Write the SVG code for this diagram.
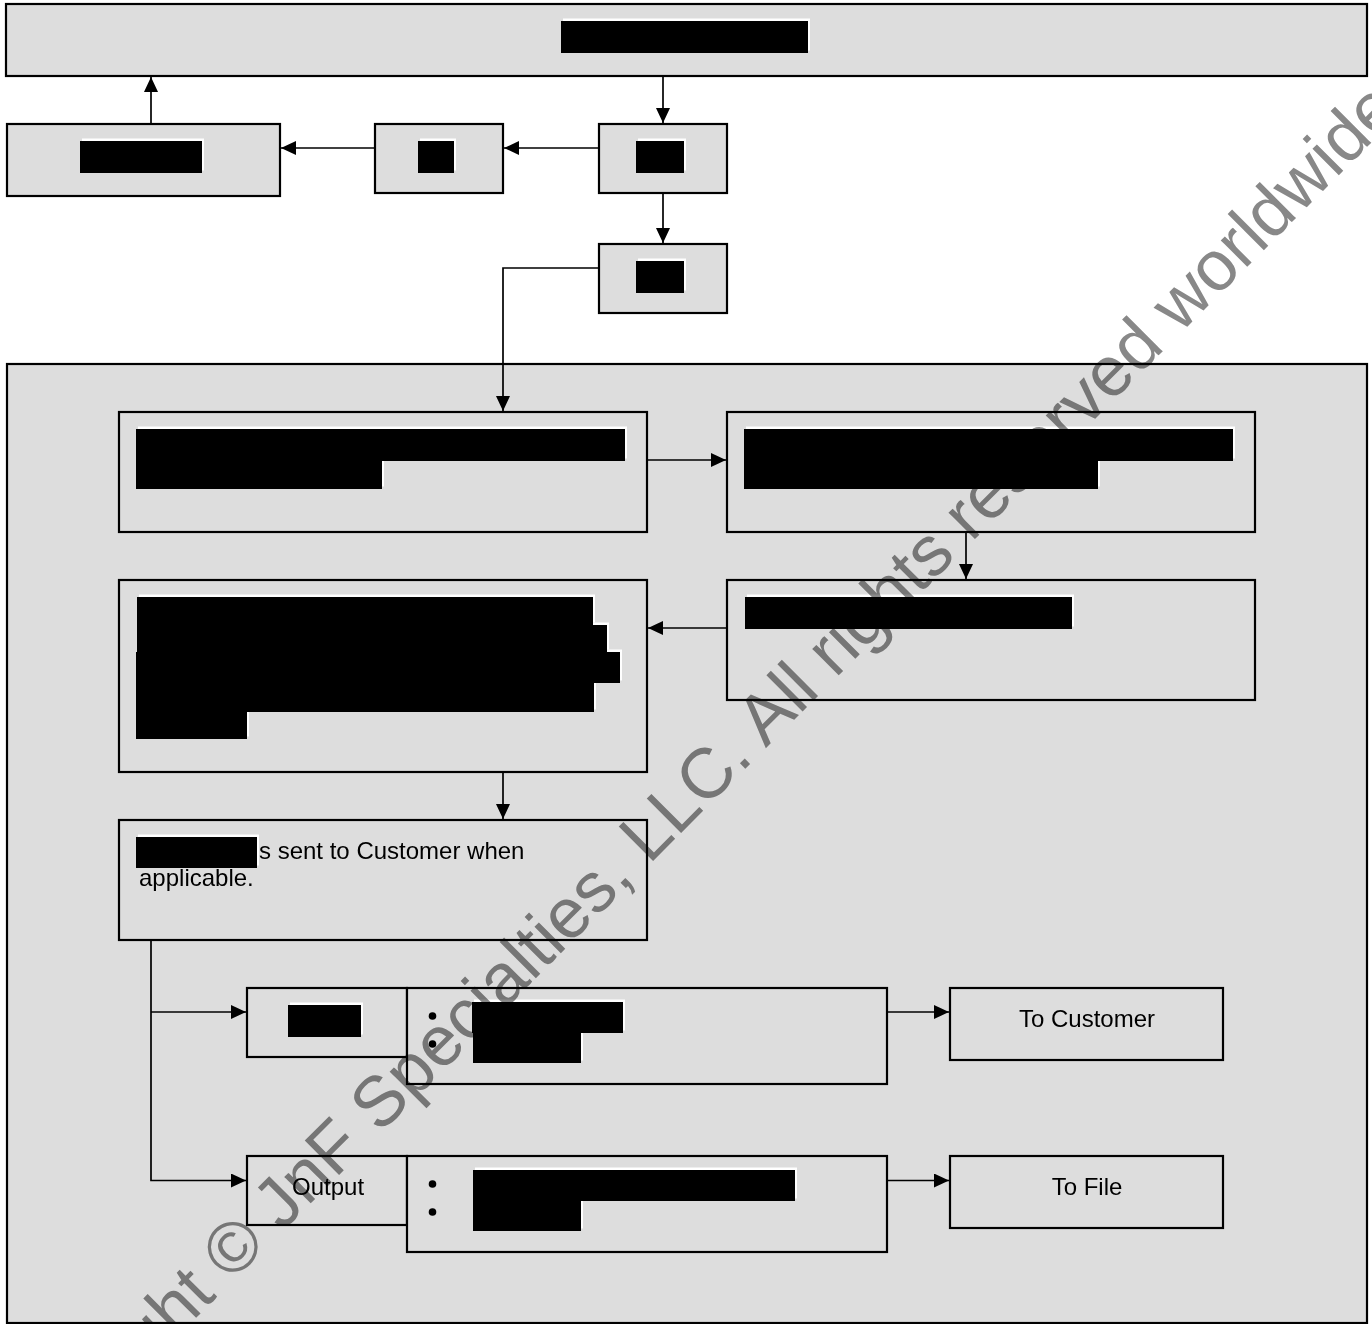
<svg xmlns="http://www.w3.org/2000/svg" width="1372" height="1324" viewBox="0 0 1372 1324">
<defs>
<style>
.box{fill:#dddddd;stroke:#000;stroke-width:2.2}
.edge{fill:none;stroke:#000;stroke-width:1.7}
.rb{fill:#000}
.rw{fill:#fff}
.t{font-family:"Liberation Sans",Arial,sans-serif;font-size:24px;fill:#000}
.wm{font-family:"Liberation Sans",Arial,sans-serif;font-size:70.6px;fill:#888888;mix-blend-mode:multiply}
</style>
<marker id="ah" markerWidth="15" markerHeight="14" refX="15" refY="7" orient="auto" markerUnits="userSpaceOnUse">
<path d="M0,0 L15,7 L0,14 Z" fill="#000"/>
</marker>
</defs>
<rect x="0" y="0" width="1372" height="1324" fill="#fff"/>

<g id="container">
<rect class="box" x="7" y="364" width="1360" height="959"/>
</g>

<g id="connectors">
<line class="edge" x1="663" y1="77" x2="663" y2="123" marker-end="url(#ah)"/>
<line class="edge" x1="599" y1="148" x2="504" y2="148" marker-end="url(#ah)"/>
<line class="edge" x1="375" y1="148" x2="281" y2="148" marker-end="url(#ah)"/>
<line class="edge" x1="151" y1="124" x2="151" y2="77" marker-end="url(#ah)"/>
<line class="edge" x1="663" y1="193" x2="663" y2="243" marker-end="url(#ah)"/>
<polyline class="edge" points="599,268 503,268 503,411" marker-end="url(#ah)"/>
<line class="edge" x1="647" y1="460" x2="726" y2="460" marker-end="url(#ah)"/>
<line class="edge" x1="966" y1="532" x2="966" y2="579" marker-end="url(#ah)"/>
<line class="edge" x1="727" y1="628" x2="648" y2="628" marker-end="url(#ah)"/>
<line class="edge" x1="503" y1="772" x2="503" y2="819" marker-end="url(#ah)"/>
<polyline class="edge" points="151,940 151,1180.5 246,1180.5" marker-end="url(#ah)"/>
<line class="edge" x1="151" y1="1012" x2="246" y2="1012" marker-end="url(#ah)"/>
<line class="edge" x1="887" y1="1012" x2="949" y2="1012" marker-end="url(#ah)"/>
<line class="edge" x1="887" y1="1180.5" x2="949" y2="1180.5" marker-end="url(#ah)"/>
</g>

<g id="n-top">
<rect class="box" x="6" y="4" width="1361" height="72"/>
<rect class="rw" x="563" y="18.5" width="247" height="32"/>
<rect class="rb" x="561" y="21" width="247" height="32"/>
</g>

<g id="n-a">
<rect class="box" x="7" y="124" width="273" height="72"/>
<rect class="rw" x="82" y="138.5" width="122" height="32"/>
<rect class="rb" x="80" y="141" width="122" height="32"/>
</g>

<g id="n-b">
<rect class="box" x="375" y="124" width="128" height="69"/>
<rect class="rw" x="420" y="138.5" width="36" height="32"/>
<rect class="rb" x="418" y="141" width="36" height="32"/>
</g>

<g id="n-c">
<rect class="box" x="599" y="124" width="128" height="69"/>
<rect class="rw" x="638" y="138.5" width="48" height="32"/>
<rect class="rb" x="636" y="141" width="48" height="32"/>
</g>

<g id="n-d">
<rect class="box" x="599" y="244" width="128" height="69"/>
<rect class="rw" x="638" y="258.5" width="48" height="32"/>
<rect class="rb" x="636" y="261" width="48" height="32"/>
</g>

<g id="n-e">
<rect class="box" x="119" y="412" width="528" height="120"/>
<rect class="rw" x="138" y="426.5" width="489" height="32"/>
<rect class="rw" x="138" y="458.5" width="246" height="28"/>
<rect class="rb" x="136" y="429" width="489" height="32"/>
<rect class="rb" x="136" y="461" width="246" height="28"/>
</g>

<g id="n-f">
<rect class="box" x="727" y="412" width="528" height="120"/>
<rect class="rw" x="746" y="426.5" width="489" height="32"/>
<rect class="rw" x="746" y="458.5" width="354" height="28"/>
<rect class="rb" x="744" y="429" width="489" height="32"/>
<rect class="rb" x="744" y="461" width="354" height="28"/>
</g>

<g id="n-g">
<rect class="box" x="727" y="580" width="528" height="120"/>
<rect class="rw" x="747" y="594.5" width="327" height="32"/>
<rect class="rb" x="745" y="597" width="327" height="32"/>
</g>

<g id="n-h">
<rect class="box" x="119" y="580" width="528" height="192"/>
<rect class="rw" x="139" y="594.5" width="456" height="28"/>
<rect class="rw" x="139" y="622.5" width="470" height="27"/>
<rect class="rw" x="138" y="649.5" width="484" height="31"/>
<rect class="rw" x="138" y="680.5" width="458" height="29"/>
<rect class="rw" x="138" y="709.5" width="111" height="27"/>
<rect class="rb" x="137" y="597" width="456" height="28"/>
<rect class="rb" x="137" y="625" width="470" height="27"/>
<rect class="rb" x="136" y="652" width="484" height="31"/>
<rect class="rb" x="136" y="683" width="458" height="29"/>
<rect class="rb" x="136" y="712" width="111" height="27"/>
</g>

<g id="n-i">
<rect class="box" x="119" y="820" width="528" height="120"/>
<rect class="rw" x="138" y="834.5" width="121" height="31"/>
<rect class="rb" x="136" y="837" width="121" height="31"/>
<text class="t" x="259" y="859">s sent to Customer when</text>
<text class="t" x="139" y="886">applicable.</text>
</g>

<g id="n-j1">
<rect class="box" x="247" y="988" width="160" height="69"/>
<rect class="rw" x="290" y="1002.5" width="73" height="32"/>
<rect class="rb" x="288" y="1005" width="73" height="32"/>
</g>

<g id="n-j2">
<rect class="box" x="407" y="988" width="480" height="96"/>
<circle cx="432.5" cy="1016" r="3.8" fill="#000"/>
<circle cx="432.5" cy="1044" r="3.8" fill="#000"/>
<rect class="rw" x="474" y="999.5" width="151" height="31"/>
<rect class="rw" x="475" y="1030.5" width="108" height="30"/>
<rect class="rb" x="472" y="1002" width="151" height="31"/>
<rect class="rb" x="473" y="1033" width="108" height="30"/>
</g>

<g id="n-k1">
<rect class="box" x="950" y="988" width="273" height="72"/>
<text class="t" x="1087" y="1027" text-anchor="middle">To Customer</text>
</g>

<g id="n-l1">
<rect class="box" x="247" y="1156" width="160" height="69"/>
<text class="t" x="292" y="1195">Output</text>
</g>

<g id="n-l2">
<rect class="box" x="407" y="1156" width="480" height="96"/>
<circle cx="432.5" cy="1184" r="3.8" fill="#000"/>
<circle cx="432.5" cy="1212" r="3.8" fill="#000"/>
<rect class="rw" x="475" y="1167.5" width="322" height="31"/>
<rect class="rw" x="475" y="1198.5" width="108" height="30"/>
<rect class="rb" x="473" y="1170" width="322" height="31"/>
<rect class="rb" x="473" y="1201" width="108" height="30"/>
</g>

<g id="n-k2">
<rect class="box" x="950" y="1156" width="273" height="72"/>
<text class="t" x="1087" y="1195" text-anchor="middle">To File</text>
</g>

<g id="watermark">
<text class="wm" x="0" y="0" transform="translate(3.6,1510.4) rotate(-45)" textLength="1978" lengthAdjust="spacingAndGlyphs">Copyright © JnF Specialties, LLC. All rights reserved worldwide</text>
</g>
</svg>
